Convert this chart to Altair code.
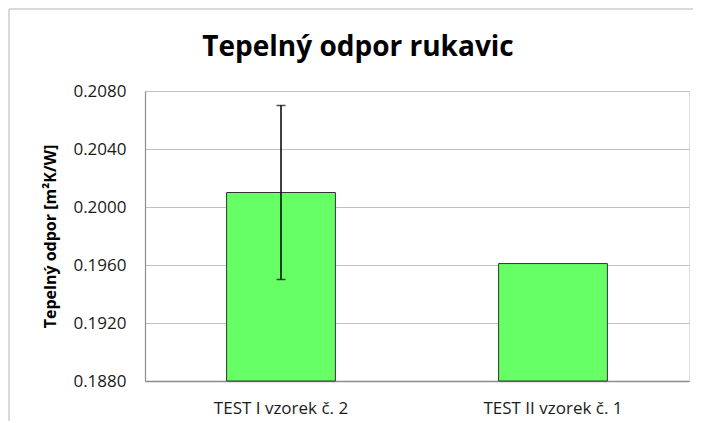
import altair as alt
import pandas as pd

categories = ["TEST I vzorek č. 2", "TEST II vzorek č. 1"]
values = [0.2010, 0.1961]
errors = [0.0060, None]
y_ticks = [0.1880, 0.1920, 0.1960, 0.2000, 0.2040, 0.2080]

df = pd.DataFrame({"cat": categories, "val": values, "err": errors})
df["lo"] = df["val"] - df["err"]
df["hi"] = df["val"] + df["err"]
err_df = df.dropna(subset=["err"])

FONT = "Open Sans"

x_enc = alt.X("cat:N", sort=categories, title=None,
              scale=alt.Scale(paddingInner=0.6, paddingOuter=0.3),
              axis=alt.Axis(labelAngle=0, labelFontSize=17, labelFont=FONT,
                            labelColor="#1a1a1a", ticks=False, tickSize=0,
                            labelPadding=19, domainColor="#8c8c8c", domainWidth=1.5))

bars = alt.Chart(df).mark_bar(color="#66ff66", stroke="#333333", strokeWidth=1).encode(
    x=x_enc,
    y=alt.Y("val:Q", title="Tepelný odpor [m²K/W]",
            scale=alt.Scale(domain=[0.188, 0.208], zero=False, nice=False),
            axis=alt.Axis(values=y_ticks, format=".4f", labelFontSize=17, labelFont=FONT,
                          labelColor="#1a1a1a", ticks=False, tickSize=0, labelPadding=19,
                          grid=True, gridColor="#bfbfbf", gridWidth=1.2,
                          domainColor="#8c8c8c", domainWidth=1.2,
                          titleFont=FONT, titleFontSize=16, titleFontWeight="bold",
                          titleColor="#000000", titleAngle=-90, titleX=-90, titleY=145,
                          titleAlign="center", titleBaseline="alphabetic")),
    y2=alt.datum(0.188),
)

err_rule = alt.Chart(err_df).mark_rule(color="#000000", strokeWidth=1.5).encode(
    x=alt.X("cat:N", sort=categories),
    y="lo:Q",
    y2="hi:Q",
)
cap_lo = alt.Chart(err_df).mark_tick(color="#000000", thickness=1.5, size=9, orient="horizontal").encode(
    x=alt.X("cat:N", sort=categories), y="lo:Q")
cap_hi = alt.Chart(err_df).mark_tick(color="#000000", thickness=1.5, size=9, orient="horizontal").encode(
    x=alt.X("cat:N", sort=categories), y="hi:Q")

border = alt.Data(values=[{"b": 1}])
border_top = alt.Chart(border).mark_rule(color="#d9d9d9", strokeWidth=2).encode(
    x=alt.value(-136), x2=alt.value(548), y=alt.value(-82))
border_left = alt.Chart(border).mark_rule(color="#d9d9d9", strokeWidth=2).encode(
    x=alt.value(-136), y=alt.value(-82), y2=alt.value(400))

chart = alt.layer(bars, err_rule, cap_lo, cap_hi, border_top, border_left).properties(
    width=544, height=290,
    title=alt.TitleParams("Tepelný odpor rukavic", font=FONT, fontSize=28, fontWeight="bold",
                          color="#000000", anchor="middle", frame="group", dx=-59, offset=-82,
                          baseline="bottom"),
    autosize=alt.AutoSizeParams(type="none"),
    padding={"left": 137, "top": 83, "right": 4, "bottom": 40},
).configure_view(stroke=None).configure(background="#ffffff")

chart.save("out.html", embed_options={"renderer": "svg", "actions": False})
